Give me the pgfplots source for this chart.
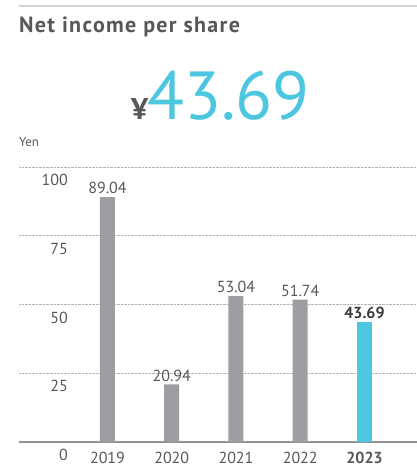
\documentclass[border=0pt]{standalone}
\usepackage{fontspec}
\setmainfont{PT Sans}
\usepackage{pgfplots}
\pgfplotsset{compat=1.18}
\definecolor{barGray}{HTML}{9D9EA2}
\definecolor{barCyan}{HTML}{4DC6E0}
\definecolor{txtGray}{HTML}{595757}
\definecolor{darkTxt}{HTML}{3E3A39}
\begin{document}
\begin{tikzpicture}
\useasboundingbox (0,0) rectangle (417bp,464bp);
\draw[gray!35, line width=1.5bp] (19bp,458bp) -- (417bp,458bp);
\node[anchor=base west, inner sep=0pt, text=txtGray, font=\fontsize{22bp}{24bp}\selectfont\bfseries\addfontfeature{LetterSpace=6}] at (19bp,431bp) {Net income per share};
\node[anchor=base west, inner sep=0pt, text=txtGray, font=\fontsize{30bp}{32bp}\selectfont\bfseries] at (131bp,344bp) {¥};
\node[anchor=base west, inner sep=0pt, text=barCyan, font=\fontsize{68bp}{70bp}\selectfont] at (147bp,344bp) {43.69};
\node[anchor=base west, inner sep=0pt, text=txtGray, font=\fontsize{13bp}{15bp}\selectfont] at (19bp,317bp) {Yen};
\begin{axis}[
  at={(19bp,22bp)}, anchor=south west,
  scale only axis, width=398bp, height=275bp,
  xmin=-1.377, xmax=4.817, ymin=0, ymax=100,
  axis line style={draw=none},
  major tick length=0pt,
  xtick={0,1,2,3,4},
  xticklabels={2019,2020,2021,2022,\textbf{2023}},
  ytick={0,25,50,75,100},
  ymajorgrids,
  grid style={densely dotted, gray!60, line width=0.6bp},
  extra y ticks={0}, extra y tick labels={},
  extra tick style={grid style={solid, gray!85, line width=1.4bp}},
  /pgf/number format/assume math mode=true,
  /pgf/number format/fixed,
  tick label style={text=txtGray, font=\fontsize{16bp}{18bp}\selectfont},
  yticklabel style={anchor=north east, inner sep=0pt, xshift=49bp, yshift=-7bp, /pgf/number format/precision=0},
  xticklabel style={anchor=north, inner sep=0pt, yshift=-10bp},
  ybar, bar width=15bp,
  nodes near coords={\pgfmathprintnumber[fixed, fixed zerofill, precision=2, assume math mode=true]{\pgfplotspointmeta}},
  nodes near coords style={text=txtGray, font=\fontsize{16bp}{18bp}\selectfont, anchor=south, inner sep=0pt, yshift=3bp},
  clip=false,
]
\addplot[fill=barGray, draw=none, bar shift=0pt] coordinates {(0,89.04) (1,20.94) (2,53.04) (3,51.74)};
\addplot[fill=barCyan, draw=none, bar shift=0pt, nodes near coords style={text=darkTxt, font=\fontsize{16bp}{18bp}\selectfont\bfseries}] coordinates {(4,43.69)};
\end{axis}
\end{tikzpicture}
\end{document}
